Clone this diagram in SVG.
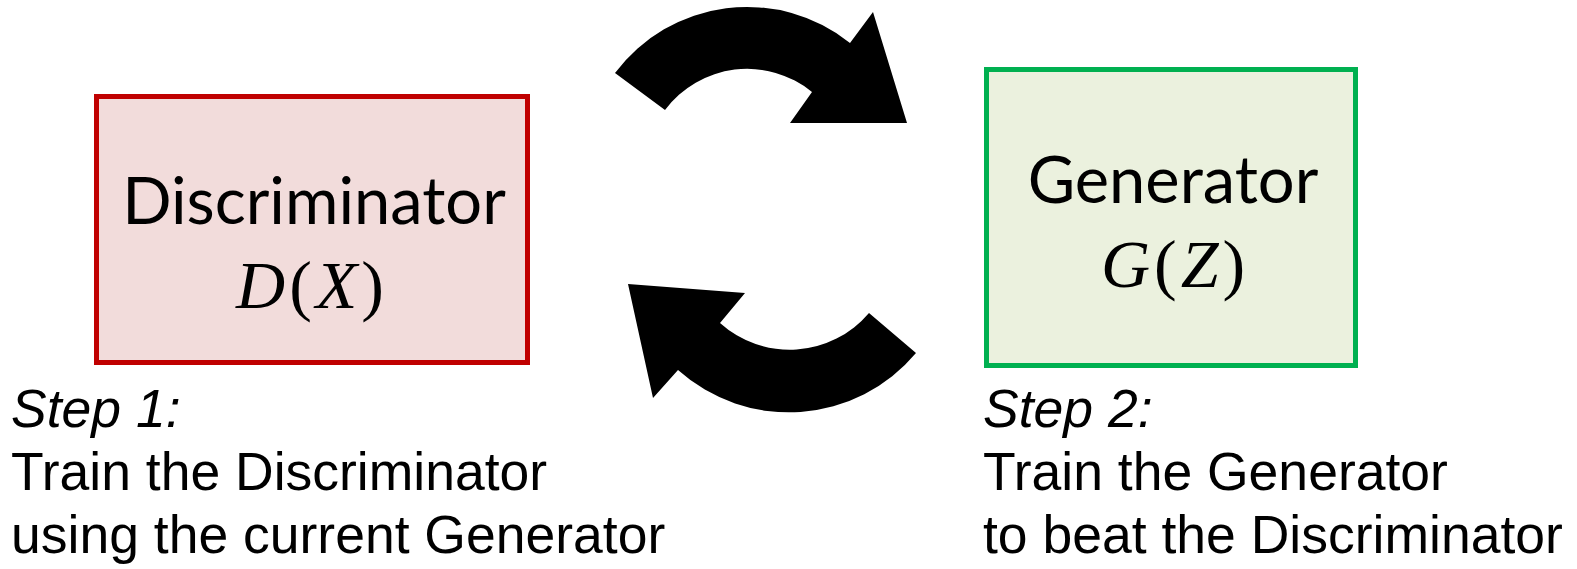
<svg xmlns="http://www.w3.org/2000/svg" width="1577" height="569" viewBox="0 0 1577 569">
<style>
.box-label{font-family:Lato,"Liberation Sans",sans-serif;font-size:65px;fill:#000;text-anchor:middle}
.math{font-family:"Liberation Serif","DejaVu Serif",serif;font-size:68px;fill:#000;text-anchor:middle}
.math .v{font-style:italic}
.caption{font-family:"Liberation Sans",Arial,sans-serif;font-size:53.5px;fill:#000}
.caption .step{font-style:italic}
.arrow{fill:#000;stroke:none}
</style>
<rect width="1577" height="569" fill="#fff"/>
<g id="discriminator">
<rect x="96.5" y="96.5" width="431" height="266" fill="#F2DCDB" stroke="#C00000" stroke-width="5"/>
<text class="box-label" x="314" y="224">Discriminator</text>
<text class="math" x="312" y="308" letter-spacing="4"><tspan class="v">D</tspan>(<tspan class="v">X</tspan>)</text>
</g>
<g id="generator">
<rect x="986.5" y="69.5" width="369" height="296" fill="#EBF1DE" stroke="#00B050" stroke-width="5"/>
<text class="box-label" x="1173" y="203">Generator</text>
<text class="math" x="1175" y="287" letter-spacing="4"><tspan class="v">G</tspan>(<tspan class="v">Z</tspan>)</text>
</g>
<g id="connectors">
<path class="arrow" d="M615,73 A165,165 0 0 1 850,43 L873,12 L907,123 L790,123 L812,92 A102.5,102.5 0 0 0 665,110 Z"/>
<path class="arrow" d="M916,353 A166,166 0 0 1 678,370 L653,398 L628,284 L745,293 L720,323 A104,104 0 0 0 869,313 Z"/>
</g>
<g id="step1">
<text class="caption" x="11" y="427"><tspan class="step">Step 1:</tspan><tspan x="11" y="490">Train the Discriminator</tspan><tspan x="11" y="553">using the current Generator</tspan></text>
</g>
<g id="step2">
<text class="caption" x="983" y="427"><tspan class="step">Step 2:</tspan><tspan x="983" y="490">Train the Generator</tspan><tspan x="983" y="553">to beat the Discriminator</tspan></text>
</g>
</svg>
